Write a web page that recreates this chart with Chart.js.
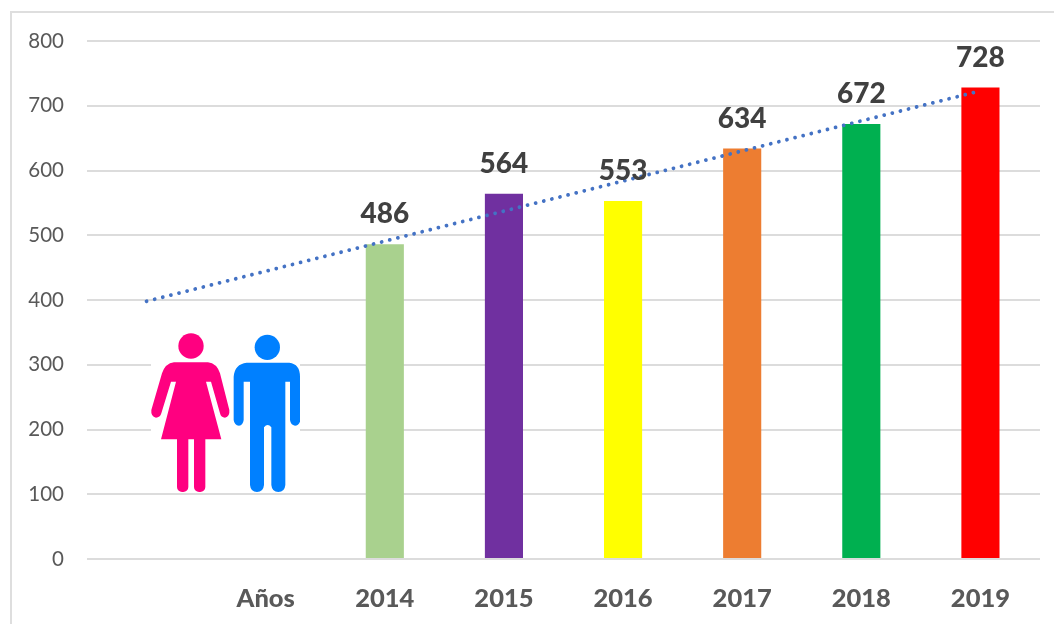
<!DOCTYPE html>
<html lang="es">
<head>
<meta charset="utf-8">
<title>Años 2014-2019</title>
<script src="https://cdn.jsdelivr.net/npm/chart.js@4"></script>
<style>
  html, body { margin: 0; padding: 0; background: #fff; overflow: hidden; }
  #frame { position: absolute; left: 10px; top: 11px; width: 1044px; height: 613px; box-sizing: border-box;
           border-top: 2px solid #dedede; border-left: 2px solid #dedede; }
  #grafico { position: absolute; left: 0; top: 0; }
</style>
</head>
<body>
<div id="frame"></div>
<canvas id="grafico" width="1054" height="624"></canvas>
<script>
// Datos
const categorias = ['', 'Años', '2014', '2015', '2016', '2017', '2018', '2019'];
const valores = [null, null, 486, 564, 553, 634, 672, 728];
const colores = ['#A9D18E', '#A9D18E', '#A9D18E', '#7030A0', '#FFFF00', '#ED7D31', '#00B050', '#FF0000'];
// Linea de tendencia: solo los dos extremos, unidos con spanGaps
const tendencia = [398, null, null, null, null, null, null, 723];
const marcasY = [0, 100, 200, 300, 400, 500, 600, 700, 800];

const FUENTE = 'Lato, Carlito, sans-serif';

// Etiquetas encima de cada barra
const etiquetasBarras = {
  id: 'etiquetasBarras',
  afterDatasetsDraw(chart) {
    const ctx = chart.ctx;
    const barras = chart.getDatasetMeta(1).data;
    ctx.save();
    ctx.font = '900 28px ' + FUENTE;
    ctx.fillStyle = '#404040';
    ctx.textAlign = 'center';
    ctx.textBaseline = 'middle';
    barras.forEach((barra, i) => {
      if (valores[i] === null) return;
      ctx.fillText(String(valores[i]), barra.x, barra.y - 30);
    });
    ctx.restore();
  }
};

// Pictograma mujer / hombre (imagen decorativa encima de la rejilla)
const pictograma = {
  id: 'pictograma',
  afterDatasetsDraw(chart) {
    const ctx = chart.ctx;
    ctx.save();
    ctx.fillStyle = '#fff';
    ctx.fillRect(151, 333, 149, 159);
    ctx.translate(130, 320);
    ctx.scale(1 / 3, 1 / 3);

    // mujer
    ctx.fillStyle = '#FF0080';
    ctx.beginPath();
    ctx.arc(183, 78, 38, 0, Math.PI * 2);
    ctx.fill();
    ctx.beginPath();
    ctx.moveTo(132, 127);
    ctx.lineTo(234, 127);
    ctx.quadraticCurveTo(260, 130, 270, 160);
    ctx.lineTo(298, 270);
    ctx.quadraticCurveTo(300, 290, 285, 293);
    ctx.quadraticCurveTo(273, 293, 270, 280);
    ctx.lineTo(243, 185);
    ctx.lineTo(228, 185);
    ctx.lineTo(274, 358);
    ctx.lineTo(93, 358);
    ctx.lineTo(138, 185);
    ctx.lineTo(123, 185);
    ctx.lineTo(94, 280);
    ctx.quadraticCurveTo(90, 293, 78, 293);
    ctx.quadraticCurveTo(62, 290, 64, 270);
    ctx.lineTo(96, 160);
    ctx.quadraticCurveTo(106, 130, 132, 127);
    ctx.fill();
    ctx.beginPath();
    ctx.roundRect(141, 340, 34, 176, [0, 0, 15, 15]);
    ctx.roundRect(192, 340, 34, 176, [0, 0, 15, 15]);
    ctx.fill();

    // hombre
    ctx.fillStyle = '#0080FF';
    ctx.beginPath();
    ctx.arc(412, 82, 38, 0, Math.PI * 2);
    ctx.fill();
    ctx.beginPath();
    ctx.moveTo(350, 128);
    ctx.lineTo(478, 128);
    ctx.quadraticCurveTo(510, 132, 510, 170);
    ctx.lineTo(510, 305);
    ctx.quadraticCurveTo(505, 317, 495, 317);
    ctx.quadraticCurveTo(482, 315, 480, 300);
    ctx.lineTo(480, 185);
    ctx.lineTo(466, 185);
    ctx.lineTo(466, 495);
    ctx.quadraticCurveTo(464, 516, 445, 516);
    ctx.quadraticCurveTo(426, 516, 424, 495);
    ctx.lineTo(424, 322);
    ctx.quadraticCurveTo(413, 308, 402, 322);
    ctx.lineTo(402, 495);
    ctx.quadraticCurveTo(400, 516, 381, 516);
    ctx.quadraticCurveTo(362, 516, 360, 495);
    ctx.lineTo(360, 185);
    ctx.lineTo(341, 185);
    ctx.lineTo(341, 300);
    ctx.quadraticCurveTo(339, 316, 327, 317);
    ctx.quadraticCurveTo(313, 316, 311, 300);
    ctx.lineTo(311, 170);
    ctx.quadraticCurveTo(314, 132, 350, 128);
    ctx.fill();
    ctx.restore();
  }
};

new Chart(document.getElementById('grafico'), {
  data: {
    labels: categorias,
    datasets: [
      {
        type: 'line',
        data: tendencia,
        spanGaps: true,
        order: 0,
        borderColor: '#4472C4',
        borderWidth: 3.8,
        borderDash: [0.01, 8.35],
        borderCapStyle: 'round',
        pointRadius: 0,
        tension: 0,
        fill: false
      },
      {
        type: 'bar',
        data: valores,
        order: 1,
        backgroundColor: colores,
        categoryPercentage: 1,
        barPercentage: 0.32
      }
    ]
  },
  options: {
    responsive: false,
    animation: false,
    layout: { padding: { top: 41, right: 14, left: 0, bottom: 0 } },
    plugins: { legend: { display: false }, tooltip: { enabled: false } },
    scales: {
      x: {
        grid: { display: false },
        border: { display: false },
        afterFit(scale) { scale.height = 65; },
        ticks: {
          autoSkip: false,
          maxRotation: 0,
          padding: 16,
          color: '#595959',
          font: { family: FUENTE, size: 25.5, weight: '900' }
        }
      },
      y: {
        min: 0,
        max: 800,
        afterFit(scale) { scale.width = 87; },
        afterBuildTicks(scale) { scale.ticks = marcasY.map(v => ({ value: v })); },
        grid: { color: '#DCDCDC', lineWidth: 2, drawTicks: false },
        border: { display: false },
        ticks: {
          padding: 23,
          color: '#595959',
          font: { family: FUENTE, size: 20.5 }
        }
      }
    }
  },
  plugins: [pictograma, etiquetasBarras]
});
</script>
</body>
</html>
